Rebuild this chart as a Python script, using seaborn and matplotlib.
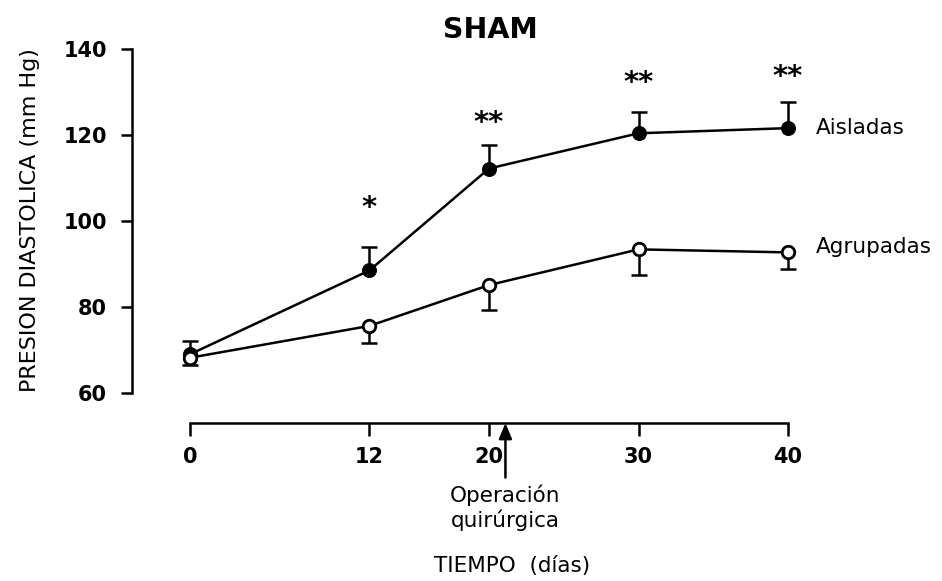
import numpy as np
import pandas as pd
import matplotlib
matplotlib.use("Agg")
import matplotlib.pyplot as plt
import matplotlib.transforms as mtransforms
import seaborn as sns

# ---- data ----
dias = [0, 12, 20, 30, 40]
aisladas = [69.0, 88.5, 112.2, 120.4, 121.6]
aisladas_err = [3.0, 5.5, 5.5, 5.0, 6.0]          # upper SEM
agrupadas = [68.2, 75.6, 85.1, 93.4, 92.7]
agrupadas_err = [1.6, 4.0, 5.8, 6.0, 3.9]         # lower SEM
signif = ["", "*", "**", "**", "**"]
signif_y = [None, 103.0, 122.8, 132.2, 133.5]
ytick_vals = [60, 80, 100, 120, 140]
xtick_vals = [0, 12, 20, 30, 40]
dia_operacion = 21.1

sns.set_style("ticks")
plt.rcParams["font.family"] = ["DejaVu Sans"]
plt.rcParams["text.color"] = "black"
plt.rcParams["axes.labelcolor"] = "black"
plt.rcParams["xtick.color"] = "black"
plt.rcParams["ytick.color"] = "black"

W, H = 942, 581
fig = plt.figure(figsize=(W / 100, H / 100), dpi=100)
ax_left, ax_right = 132, 925
ax = fig.add_axes([ax_left / W, 1 - 393 / H, (ax_right - ax_left) / W, 344 / H])

df_a = pd.DataFrame({"dia": dias, "presion": aisladas})
df_g = pd.DataFrame({"dia": dias, "presion": agrupadas})

# error bars (one-sided)
eb = ax.errorbar(dias, aisladas, yerr=[np.zeros(len(dias)), aisladas_err],
                 fmt="none", ecolor="black", elinewidth=1.8, capsize=6,
                 capthick=1.8, zorder=1)
eb[1][0].remove()
eb2 = ax.errorbar(dias, agrupadas, yerr=[agrupadas_err, np.zeros(len(dias))],
                  fmt="none", ecolor="black", elinewidth=1.8, capsize=6,
                  capthick=1.8, zorder=1)
eb2[1][1].remove()

sns.lineplot(data=df_a, x="dia", y="presion", ax=ax, color="black", lw=1.8,
             marker="o", markersize=10, markerfacecolor="black",
             markeredgecolor="black", zorder=3)
sns.lineplot(data=df_g, x="dia", y="presion", ax=ax, color="black", lw=1.8,
             marker="o", markersize=9, markerfacecolor="white",
             markeredgecolor="black", markeredgewidth=2.0, zorder=3)

# significance stars
for d, s, sy in zip(dias, signif, signif_y):
    if s:
        ax.text(d, sy, s, ha="center", va="center", fontsize=21,
                fontweight="bold")

# series labels
ax.annotate("Aisladas", xy=(dias[-1], aisladas[-1]), xytext=(28, 0),
            textcoords="offset pixels", ha="left", va="center", fontsize=15.5)
ax.annotate("Agrupadas", xy=(dias[-1], agrupadas[-1]), xytext=(28, 5),
            textcoords="offset pixels", ha="left", va="center", fontsize=15.5)

# axes styling
for sp in ["top", "right"]:
    ax.spines[sp].set_visible(False)
ax.spines["bottom"].set_position(("outward", 21.6))
ax.spines["left"].set_bounds(60, 140)
ax.spines["bottom"].set_bounds(0, 40)
for sp in ["left", "bottom"]:
    ax.spines[sp].set_linewidth(1.8)
    ax.spines[sp].set_color("black")
ppd = (788 - 190) / 40.0
ax.set_xlim((ax_left - 190) / ppd, (ax_right - 190) / ppd)
ax.set_ylim(60, 140)
ax.set_yticks(ytick_vals)
ax.set_xticks(xtick_vals)
ax.set_yticklabels([str(v) for v in ytick_vals], fontsize=15, fontweight="bold")
ax.set_xticklabels([str(v) for v in xtick_vals], fontsize=15, fontweight="bold")
ax.set_xlabel("")
ax.set_ylabel("")
ax.tick_params(axis="y", direction="out", length=8, width=1.8, pad=10, colors="black")
ax.tick_params(axis="x", direction="out", length=9, width=1.8, pad=8, colors="black")

# surgery arrow
tr = mtransforms.offset_copy(ax.get_xaxis_transform(), fig=fig, y=-30, units="dots")
ax.annotate("Operación\nquirúrgica", xy=(dia_operacion, 0), xycoords=tr,
            xytext=(0, -62), textcoords="offset pixels", ha="center", va="top",
            fontsize=15.5, linespacing=1.15,
            arrowprops=dict(arrowstyle="-|>,head_length=0.6,head_width=0.25",
                            color="black", lw=1.8, shrinkA=3, shrinkB=0))

fig.text(512 / W, 1 - 566 / H, "TIEMPO  (días)", ha="center", va="center",
         fontsize=15.5)
fig.text(30 / W, 1 - 220 / H, "PRESION DIASTOLICA (mm Hg)", rotation=90,
         ha="center", va="center", fontsize=16)
fig.text(490 / W, 1 - 30 / H, "SHAM", ha="center", va="center",
         fontsize=20.5, fontweight="bold")

fig.savefig("out.png", dpi=100, facecolor="white")
